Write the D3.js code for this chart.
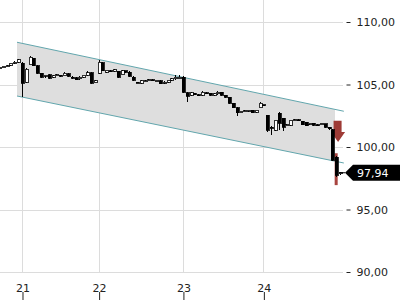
<!DOCTYPE html>
<html lang="de">
<head>
    <meta charset="UTF-8">
    <title>Kursverlauf</title>
    <script src="https://d3js.org/d3.v7.min.js"></script>
    <style>
        body { margin: 0; background: #fff; }
        text { font-family: "DejaVu Sans", sans-serif; font-size: 11px; }
    </style>
</head>
<body>
<svg id="chart" width="400" height="300"></svg>
<script>
    // candle data, one bar per index (day 20 tail .. day 24)
    var opens  = [106.30,106.35,106.45,106.55,106.70,106.80,106.72,105.20,106.60,107.10,
                  106.50,105.90,105.65,105.80,105.60,105.75,105.75,105.70,105.85,105.60,
                  105.55,105.45,105.60,105.75,105.95,105.15,105.90,106.75,106.00,106.10,
                  106.05,106.05,105.80,106.10,106.00,105.60,105.20,105.12,105.30,105.30,
                  105.40,105.30,105.30,105.10,105.20,105.35,105.45,105.60,105.60,104.35,
                  104.15,104.30,104.20,104.15,104.35,104.30,104.15,104.25,104.40,104.15,
                  104.00,103.50,103.15,102.75,102.85,102.85,102.95,102.80,103.15,103.38,
                  102.56,101.60,101.36,102.72,102.30,101.70,101.76,102.15,102.20,102.05,
                  102.00,101.85,101.90,101.80,101.80,101.85,101.60,101.40,99.20,97.85];
    var closes = [106.35,106.45,106.50,106.70,106.80,107.00,105.12,106.24,107.20,106.50,
                  105.90,105.60,105.75,105.50,105.70,105.80,105.65,105.90,105.65,105.55,
                  105.40,105.60,105.75,105.95,105.12,105.30,106.80,106.10,106.15,106.05,
                  106.20,105.60,106.10,106.00,105.65,105.35,105.15,105.30,105.30,105.40,
                  105.35,105.35,105.05,105.20,105.35,105.45,105.60,105.60,104.40,104.05,
                  104.35,104.20,104.15,104.40,104.30,104.15,104.25,104.40,104.15,104.00,
                  103.50,103.15,102.75,102.85,102.90,102.95,102.75,102.95,103.50,103.36,
                  101.36,101.50,102.16,101.92,101.60,101.80,102.16,102.20,102.10,101.80,
                  101.70,101.90,101.75,101.75,101.85,101.60,101.45,98.95,97.76,97.94];
    var highs  = [106.40,106.48,106.55,106.75,106.85,107.05,106.80,106.30,107.25,107.15,
                  106.55,105.95,105.80,105.82,105.75,105.85,105.80,106.00,105.90,105.65,
                  105.58,105.65,105.80,106.05,105.98,105.35,106.95,106.80,106.20,106.15,
                  106.25,106.10,106.15,106.12,106.05,105.65,105.22,105.35,105.35,105.45,
                  105.45,105.40,105.33,105.25,105.40,105.50,105.75,105.75,105.65,104.40,
                  104.40,104.35,104.25,104.45,104.38,104.33,104.30,104.45,104.42,104.18,
                  104.03,103.55,103.18,102.90,102.95,103.00,102.98,103.00,103.60,103.40,
                  102.60,101.65,102.20,102.80,102.35,101.85,102.20,102.25,102.22,102.08,
                  102.03,101.95,101.93,101.85,101.88,101.88,101.62,101.45,99.25,98.00];
    var lows   = [106.25,106.30,106.40,106.50,106.65,106.75,104.00,105.10,106.55,106.45,
                  105.85,105.50,105.55,105.45,105.55,105.70,105.60,105.65,105.60,105.45,
                  105.35,105.40,105.55,105.70,105.05,105.10,105.85,106.05,105.92,106.00,
                  106.00,105.55,105.75,105.95,105.60,105.30,105.10,105.08,105.25,105.25,
                  105.30,105.25,105.02,105.05,105.15,105.30,105.40,105.55,104.35,103.60,
                  104.10,104.15,104.10,104.10,104.25,104.10,104.10,104.20,104.12,103.95,
                  103.45,103.10,102.45,102.70,102.80,102.80,102.70,102.75,103.10,103.35,
                  101.20,100.96,101.30,101.36,101.30,101.65,101.70,102.10,102.05,101.75,
                  101.65,101.80,101.70,101.70,101.75,101.55,101.40,98.85,97.60,97.75];

    var dayTicks = [6, 26, 48, 69];
    var dayLabels = ["21", "22", "23", "24"];
    var priceTicks = [90, 95, 100, 105, 110];

    // trend channel: [bar index, upper, lower]
    var channelFrom = [4.7, 108.38, 104.08];
    var channelTo = [90, 102.86, 98.72];
    var channelFillEnd = 87.7;

    var lastPrice = 97.94;
    var signalBar = [99.5, 96.95];   // red marker under the last bar
    var arrowRange = [102.1, 100.4]; // sell arrow

    var W = 400, H = 300, plotRight = 343, plotBottom = 273;

    var svg = d3.select("#chart");

    var x = d3.scaleLinear().domain([0, 89]).range([-1, 340]);
    var y = d3.scaleLinear().domain([90, 110]).range([272, 22]);

    var de = d3.formatLocale({decimal: ",", thousands: ".", grouping: [3], currency: ["", " €"]});
    var fmt = de.format(".2f");

    // grid
    svg.append("g").selectAll("line").data(priceTicks).enter().append("line")
        .attr("x1", 0).attr("x2", plotRight)
        .attr("y1", function (d) { return Math.round(y(d)) + 0.5; })
        .attr("y2", function (d) { return Math.round(y(d)) + 0.5; })
        .attr("stroke", "#dcdcdc");
    svg.append("g").selectAll("line").data(dayTicks).enter().append("line")
        .attr("x1", function (d) { return Math.round(x(d)) + 0.5; })
        .attr("x2", function (d) { return Math.round(x(d)) + 0.5; })
        .attr("y1", 0).attr("y2", plotBottom)
        .attr("stroke", "#dcdcdc");

    // channel
    var upper = d3.scaleLinear().domain([channelFrom[0], channelTo[0]]).range([channelFrom[1], channelTo[1]]);
    var lower = d3.scaleLinear().domain([channelFrom[0], channelTo[0]]).range([channelFrom[2], channelTo[2]]);
    var fillPts = [[channelFrom[0], upper(channelFrom[0])], [channelFillEnd, upper(channelFillEnd)],
                   [channelFillEnd, lower(channelFillEnd)], [channelFrom[0], lower(channelFrom[0])]];
    svg.append("path")
        .attr("d", d3.line().x(function (d) { return x(d[0]); }).y(function (d) { return y(d[1]); })(fillPts) + "Z")
        .attr("fill", "#dedede");
    [upper, lower].forEach(function (s) {
        svg.append("line")
            .attr("x1", x(channelFrom[0])).attr("y1", y(s(channelFrom[0])))
            .attr("x2", x(channelTo[0])).attr("y2", y(s(channelTo[0])))
            .attr("stroke", "#62a6ad").attr("stroke-width", 1);
    });

    // red signal bar + arrow
    svg.append("rect")
        .attr("x", x(88) - 1.5).attr("width", 3)
        .attr("y", y(signalBar[0])).attr("height", y(signalBar[1]) - y(signalBar[0]))
        .attr("fill", "#a8443f");
    var ax = x(88.5), aTop = y(arrowRange[0]), aBot = y(arrowRange[1]);
    svg.append("path")
        .attr("d", "M" + (ax - 4.5) + "," + aTop + "H" + (ax + 3.5) + "V" + (aBot - 10) +
            "H" + (ax + 7) + "L" + ax + "," + aBot + "L" + (ax - 7) + "," + (aBot - 10) +
            "H" + (ax - 4.5) + "Z")
        .attr("fill", "#9e3b36");

    // candles
    var bars = opens.map(function (o, i) {
        return {i: i, o: o, c: closes[i], h: highs[i], l: lows[i]};
    });
    var cg = svg.append("g").attr("shape-rendering", "crispEdges");
    cg.selectAll("line.wick").data(bars).enter().append("line")
        .attr("class", "wick")
        .attr("x1", function (d) { return Math.round(x(d.i)) + 0.5; })
        .attr("x2", function (d) { return Math.round(x(d.i)) + 0.5; })
        .attr("y1", function (d) { return y(d.h); })
        .attr("y2", function (d) { return y(d.l); })
        .attr("stroke", "#000");
    cg.selectAll("rect").data(bars).enter().append("rect")
        .attr("x", function (d) { return Math.round(x(d.i)) - 1; })
        .attr("width", 3)
        .attr("y", function (d) { return y(Math.max(d.o, d.c)); })
        .attr("height", function (d) { return Math.max(1, Math.abs(y(d.o) - y(d.c))); })
        .attr("fill", function (d) { return d.c >= d.o ? "#fff" : "#000"; })
        .attr("stroke", "#000").attr("stroke-width", 0.8);

    // y axis on the right
    var yAxis = d3.axisRight(y).tickValues(priceTicks).tickSize(4).tickPadding(6).tickFormat(fmt);
    var yg = svg.append("g").attr("transform", "translate(346.5,0)").call(yAxis);
    yg.select(".domain").remove();
    yg.selectAll(".tick line").attr("stroke", "#222");
    yg.selectAll("text").attr("fill", "#222").style("font-size", "11px").style("font-family", "DejaVu Sans");

    // x axis (labels above short ticks at the bottom edge)
    var xAxis = d3.axisTop(x).tickValues(dayTicks).tickSize(8).tickPadding(0)
        .tickFormat(function (d, i) { return dayLabels[i]; });
    var xg = svg.append("g").attr("transform", "translate(0.5," + H + ")").call(xAxis);
    xg.select(".domain").remove();
    xg.selectAll(".tick line").attr("stroke", "#222");
    xg.selectAll("text").attr("fill", "#222").style("font-size", "11px").style("font-family", "DejaVu Sans");

    // last price tag
    var py = y(lastPrice);
    svg.append("line").attr("x1", x(89) - 1).attr("x2", 345).attr("y1", py).attr("y2", py).attr("stroke", "#000");
    svg.append("path")
        .attr("d", "M345," + py + "L353," + (py - 8) + "H" + W + "V" + (py + 8) + "H353Z")
        .attr("fill", "#000");
    svg.append("text").attr("x", 357).attr("y", py).attr("dy", "0.35em")
        .attr("fill", "#fff").text(fmt(lastPrice));
</script>
</body>
</html>
